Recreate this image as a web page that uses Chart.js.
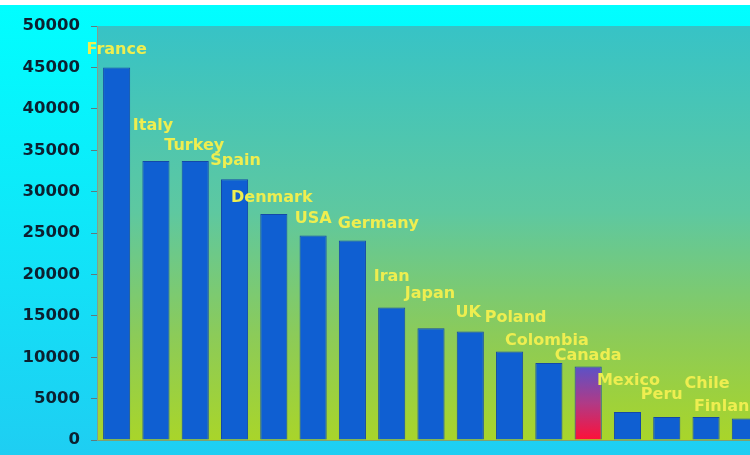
<!DOCTYPE html>
<html>
<head>
<meta charset="utf-8">
<script src="https://cdn.jsdelivr.net/npm/chart.js@4"></script>
<style>
  html, body { margin: 0; padding: 0; overflow: hidden; background: #fff; }
  #wrap { width: 750px; height: 455px; overflow: hidden; }
</style>
</head>
<body>
<div id="wrap"><canvas id="c" width="770" height="461"></canvas></div>
<script>
// data
const countries = ['France', 'Italy', 'Turkey', 'Spain', 'Denmark', 'USA', 'Germany', 'Iran',
    'Japan', 'UK', 'Poland', 'Colombia', 'Canada', 'Mexico', 'Peru', 'Chile', 'Finland'];
const values = [45000, 33700, 33700, 31500, 27300, 24700, 24100, 16000,
    13500, 13100, 10700, 9300, 8900, 3400, 2800, 2800, 2600];
const highlight = 'Canada';

// where each name sits relative to its bar top (px)
const labelShift = [[0, -18], [-3, -35], [-1, -15], [1, -18], [-2, -16], [0, -17], [26, -17], [0, -31],
    [-1, -34], [-2, -19], [6, -34], [-2, -22], [0, -11], [1, -31], [-5, -22], [1, -33], [-18, -12]];

const bgPlugin = {
    id: 'bg',
    beforeDraw(chart) {
        const ctx = chart.ctx, a = chart.chartArea;
        ctx.save();
        let g = ctx.createLinearGradient(0, 0, 0, chart.height);
        g.addColorStop(0, '#00ffff');
        g.addColorStop(1, '#1fcdf2');
        ctx.fillStyle = g;
        ctx.fillRect(0, 0, chart.width, chart.height);
        ctx.fillStyle = '#ffffff';
        ctx.fillRect(0, 0, chart.width, 5);
        g = ctx.createLinearGradient(0, a.top, 0, a.bottom);
        g.addColorStop(0, '#37c3c6');
        g.addColorStop(0.45, '#5ec8a0');
        g.addColorStop(0.75, '#8ccb58');
        g.addColorStop(1, '#a9d52a');
        ctx.fillStyle = g;
        ctx.fillRect(a.left, a.top, chart.width - a.left, a.bottom - a.top);
        ctx.restore();
    }
};

const namePlugin = {
    id: 'names',
    afterDatasetsDraw(chart) {
        const ctx = chart.ctx;
        const meta = chart.getDatasetMeta(0);
        ctx.save();
        ctx.font = 'bold 16px "DejaVu Sans"';
        ctx.fillStyle = '#eeee50';
        ctx.textAlign = 'center';
        ctx.textBaseline = 'middle';
        meta.data.forEach((bar, i) => {
            const s = labelShift[i];
            ctx.fillText(countries[i], bar.x + s[0], bar.y + s[1]);
        });
        ctx.restore();
    }
};

function barColor(c) {
    const i = c.dataIndex;
    if (countries[i] !== highlight) return '#0f5fd2';
    const chart = c.chart, a = chart.chartArea;
    if (!a || !chart.scales.y) return '#0f5fd2';
    const top = chart.scales.y.getPixelForValue(values[i]);
    const g = chart.ctx.createLinearGradient(0, top, 0, a.bottom);
    g.addColorStop(0, '#5a52c8');
    g.addColorStop(0.5, '#b03a86');
    g.addColorStop(1, '#ff1038');
    return g;
}

new Chart(document.getElementById('c'), {
    type: 'bar',
    data: {
        labels: countries,
        datasets: [{
            data: values,
            backgroundColor: barColor,
            borderColor: '#1448a8',
            borderWidth: 1,
            barPercentage: 0.69,
            categoryPercentage: 1
        }]
    },
    options: {
        responsive: false,
        animation: false,
        layout: { padding: { top: 26, right: 5, bottom: 0, left: 0 } },
        plugins: { legend: { display: false }, tooltip: { enabled: false } },
        scales: {
            x: {
                grid: { display: false },
                border: { display: true, color: '#7fa070' },
                ticks: { display: false }
            },
            y: {
                min: 0, max: 50000,
                ticks: {
                    stepSize: 5000,
                    color: '#0c2030',
                    padding: 11,
                    font: { family: 'DejaVu Sans', size: 16.5, weight: 'bold' },
                    callback: v => String(v)
                },
                grid: { drawOnChartArea: false, tickLength: 6, color: '#5c7c80' },
                border: { color: '#7fa090' },
                afterFit(s) { s.width = 97; }
            }
        }
    },
    plugins: [bgPlugin, namePlugin]
});
</script>
</body>
</html>
